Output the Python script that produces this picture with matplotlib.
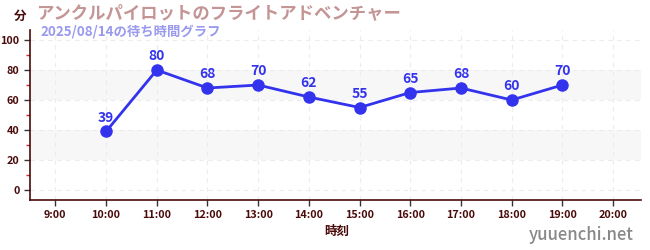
import matplotlib
matplotlib.use("Agg")
import matplotlib.pyplot as plt
from matplotlib.ticker import MultipleLocator

plt.rcParams['font.family'] = ['Noto Sans CJK JP', 'DejaVu Sans']

hours = [10, 11, 12, 13, 14, 15, 16, 17, 18, 19]
waits = [39, 80, 68, 70, 62, 55, 65, 68, 60, 70]
xtick_hours = [9, 10, 11, 12, 13, 14, 15, 16, 17, 18, 19, 20]
xtick_labels = [f"{h}:00" for h in xtick_hours]
yticks = [0, 20, 40, 60, 80, 100]
title = "アンクルパイロットのフライトアドベンチャー"
subtitle = "2025/08/14の待ち時間グラフ"

dark = "#4a0a0a"
blue = "#3333ee"

fig = plt.figure(figsize=(6.5, 2.5), dpi=100)
ax = fig.add_axes([30/650, 1-200/250, (641-30)/650, 170/250])

ax.set_xlim(8.5, 20.55)
ax.set_ylim(-6.7, 106.7)

for lo, hi in [(20, 40), (60, 80)]:
    ax.axhspan(lo, hi, color="#f7f7f7", zorder=0, lw=0)

ax.set_xticks(xtick_hours)
ax.set_xticklabels(xtick_labels)
ax.set_yticks(yticks)
ax.yaxis.set_minor_locator(MultipleLocator(10))
ax.grid(True, which="major", color="#ececec", ls=(0, (4, 4)), lw=0.8, zorder=0.5)

ax.plot(hours, waits, color=blue, lw=2.0, marker="o", ms=8, zorder=3)
for h, w in zip(hours, waits):
    ax.annotate(str(w), (h, w), xytext=(0, 5), textcoords="offset points",
                ha="center", va="bottom", color=blue, fontsize=10, fontweight="bold")

for s in ["top", "right"]:
    ax.spines[s].set_visible(False)
for s in ["left", "bottom"]:
    ax.spines[s].set_color(dark)
    ax.spines[s].set_linewidth(1.2)

ax.tick_params(axis="both", which="major", colors="#333333", labelcolor=dark,
               labelsize=7.8, length=4, width=1)
ax.tick_params(axis="y", which="minor", colors="#dd2222", length=3, width=1)
for lbl in ax.get_xticklabels() + ax.get_yticklabels():
    lbl.set_fontweight("bold")

fig.text(14/650, 1-16/250, "分", ha="left", va="center", color=dark, fontsize=9, fontweight="bold")
fig.text(36/650, 1-13/250, title, ha="left", va="center", color="#c49595", fontsize=12.5, fontweight="bold")
fig.text(40/650, 1-31/250, subtitle, ha="left", va="center", color="#9999ee", fontsize=9.6, fontweight="bold")
fig.text(337/650, 1-231/250, "時刻", ha="center", va="center", color=dark, fontsize=9, fontweight="bold")
fig.text(634/650, 1-235/250, "yuuenchi.net", ha="right", va="center", color="#888888", fontsize=12, fontweight="medium")

fig.savefig("out.png", dpi=100)
